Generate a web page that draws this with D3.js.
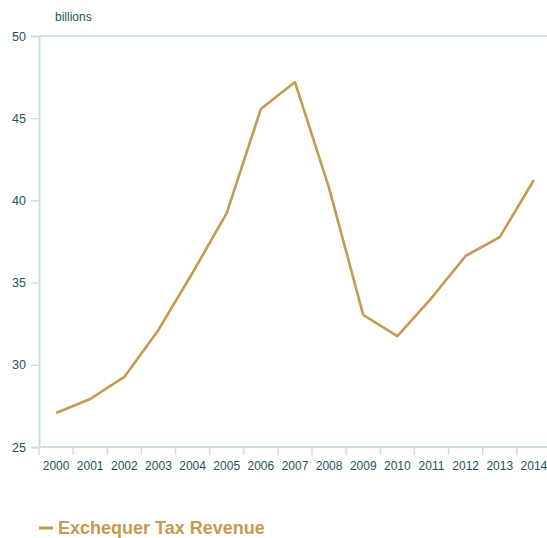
<!DOCTYPE html>
<html><head><meta charset="utf-8">
<script src="https://cdn.jsdelivr.net/npm/d3@7"></script>
<style>
html,body{margin:0;padding:0;background:#fff;}
svg{display:block;}
</style></head>
<body>
<svg id="chart" width="547" height="538"></svg>
<script>
const years = ["2000","2001","2002","2003","2004","2005","2006","2007","2008","2009","2010","2011","2012","2013","2014"];
const revenue = [27.07, 27.92, 29.26, 32.12, 35.6, 39.23, 45.56, 47.2, 40.75, 33.03, 31.75, 34.06, 36.62, 37.77, 41.24];
const yTicks = [25, 30, 35, 40, 45, 50];
const seriesName = "Exchequer Tax Revenue";
const unitLabel = "billions";

const axisColor = "#cddfe2";
const textColor = "#22545d";
const lineColor = "#c49b4f";
const font = "'Liberation Sans', Arial, sans-serif";

const svg = d3.select("#chart");
const mLeft = 39, mTop = 36, mBottom = 447, bandW = 34.13;

const x = d3.scaleBand().domain(years).range([mLeft, mLeft + bandW * years.length]);
const y = d3.scaleLinear().domain([25, 50]).range([mBottom, mTop]);

// top border line
svg.append("line").attr("x1", mLeft).attr("x2", 547).attr("y1", y(50)).attr("y2", y(50))
  .attr("stroke", axisColor).attr("stroke-width", 1.5);

// y axis
const yAxis = svg.append("g").attr("transform", `translate(${mLeft},0)`)
  .call(d3.axisLeft(y).tickValues(yTicks).tickSize(8).tickPadding(5));
yAxis.select(".domain").attr("stroke", axisColor).attr("stroke-width", 2);
yAxis.selectAll(".tick line").attr("stroke", axisColor).attr("stroke-width", 1.5);
yAxis.selectAll(".tick text").attr("fill", textColor).attr("font-family", font).attr("font-size", 12.5);

// x axis
const xAxis = svg.append("g").attr("transform", `translate(0,${mBottom})`)
  .call(d3.axisBottom(x).tickSize(0).tickPadding(14));
xAxis.select(".domain").remove();
svg.append("line").attr("x1", mLeft).attr("x2", 547).attr("y1", mBottom).attr("y2", mBottom)
  .attr("stroke", axisColor).attr("stroke-width", 2);
xAxis.selectAll(".tick text").attr("fill", textColor).attr("font-family", font).attr("font-size", 12);
// band boundary ticks
svg.append("g").selectAll("line").data(years).join("line")
  .attr("x1", d => x(d)).attr("x2", d => x(d))
  .attr("y1", mBottom).attr("y2", mBottom + 8)
  .attr("stroke", axisColor).attr("stroke-width", 1.5);

// unit label
svg.append("text").attr("x", 55).attr("y", 21).text(unitLabel)
  .attr("fill", textColor).attr("font-family", font).attr("font-size", 12);

// line
const line = d3.line().x((d, i) => x(years[i]) + x.bandwidth() / 2).y(d => y(d));
svg.append("path").datum(revenue).attr("d", line)
  .attr("fill", "none").attr("stroke", lineColor).attr("stroke-width", 2.6)
  .attr("stroke-linejoin", "round");

// legend
svg.append("line").attr("x1", 39).attr("x2", 53).attr("y1", 528).attr("y2", 528)
  .attr("stroke", lineColor).attr("stroke-width", 3);
svg.append("text").attr("x", 58).attr("y", 534).text(seriesName)
  .attr("fill", lineColor).attr("font-family", font).attr("font-size", 18).attr("font-weight", "bold");
</script>
</body></html>
